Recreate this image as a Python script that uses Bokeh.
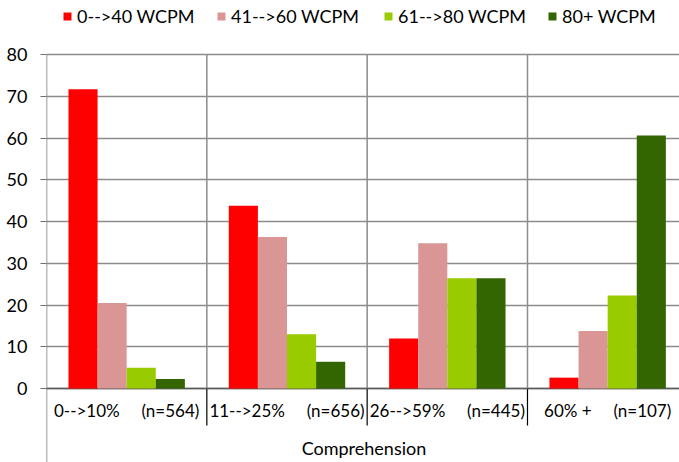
from bokeh.plotting import figure
from bokeh.models import (Range1d, FixedTicker, ColumnDataSource, Legend, LegendItem)
from bokeh.core.properties import value
from bokeh.embed import file_html
from bokeh.resources import INLINE
import numpy as np

# ---- data -------------------------------------------------------------
groups = ["0-->10%", "11-->25%", "26-->59%", "60% +"]
group_n = ["(n=564)", "(n=656)", "(n=445)", "(n=107)"]
series = ["0-->40 WCPM", "41-->60 WCPM", "61-->80 WCPM", "80+ WCPM"]
wcpm_0_40 = [71.7, 43.8, 12.0, 2.6]
wcpm_41_60 = [20.5, 36.3, 34.8, 13.8]
wcpm_61_80 = [5.0, 13.0, 26.4, 22.3]
wcpm_80_up = [2.3, 6.4, 26.4, 60.6]
y_ticks = [0, 10, 20, 30, 40, 50, 60, 70, 80]
x_title = "Comprehension"

values = [wcpm_0_40, wcpm_41_60, wcpm_61_80, wcpm_80_up]
colors = ["#FF0000", "#D99694", "#99CC00", "#336600"]

FONT = "Lato"
FS = "18px"
GRID = "#8c8c8c"

# ---- layout -----------------------------------------------------------
W, H = 679, 462
LEFT = 46
group_px = 160.33          # width of one category group in pixels
unit_px = 334 / 80.0       # pixels per y unit
y0_px = 388                # screen y of value 0 (from top)
y80_px = 54                # screen y of value 80 (from top)

x_end = (W - LEFT) / group_px
y_top = 80 + y80_px / unit_px
y_bot = -(H - y0_px) / unit_px

p = figure(width=W, height=H, output_backend="svg", toolbar_location=None,
           x_range=Range1d(0, x_end), y_range=Range1d(y_bot, y_top),
           min_border_left=LEFT, min_border_right=0, min_border_top=0,
           min_border_bottom=0, x_axis_location=None)
p.outline_line_color = None
p.xgrid.visible = False

# y axis: ticks and labels only, the axis line is drawn separately
p.yaxis.ticker = FixedTicker(ticks=y_ticks)
p.yaxis.axis_line_color = None
p.yaxis.major_tick_out = 6
p.yaxis.major_tick_in = 0
p.yaxis.major_tick_line_color = "#6e6e6e"
p.yaxis.minor_tick_line_color = None
p.yaxis.major_label_standoff = 13
p.yaxis.major_label_text_font = FONT
p.yaxis.major_label_text_font_size = FS
p.yaxis.major_label_text_color = "#000000"
p.ygrid.ticker = FixedTicker(ticks=y_ticks)
p.ygrid.grid_line_color = GRID
p.ygrid.grid_line_width = 1.5

# group separators (gray inside the plot, black through the label band)
seps = np.arange(1, len(groups))
p.segment(x0=seps, x1=seps, y0=[0] * len(seps), y1=[80] * len(seps),
          line_color=GRID, line_width=1.5)
p.segment(x0=seps, x1=seps, y0=[-37 / unit_px] * len(seps), y1=[0] * len(seps),
          line_color="#000000", line_width=1.2)

# value axis line, running down through the category band
p.segment(x0=[0], x1=[0], y0=[y_bot], y1=[80], line_color="#7a7a7a", line_width=1.5)
# category axis line at zero
p.segment(x0=[-6 / group_px], x1=[x_end], y0=[0], y1=[0],
          line_color="#5a5a5a", line_width=1.5)

# ---- bars -------------------------------------------------------------
bar_w = 29.1 / group_px
centers = np.arange(len(groups)) + 0.5
renderers = []
for i, (vals, col) in enumerate(zip(values, colors)):
    off = (i - 1.5) * bar_w
    src = ColumnDataSource(dict(x=centers + off, top=vals))
    r = p.vbar(x="x", top="top", bottom=0, width=bar_w, source=src,
               fill_color=col, line_color=None)
    renderers.append(r)

# ---- category labels --------------------------------------------------
gap = "\u00a0" * 5
cat_labels = [f"{g}{gap}{n}" for g, n in zip(groups, group_n)]
p.text(x=centers, y=[-(410 - y0_px) / unit_px] * len(groups), text=cat_labels,
       text_align="center", text_baseline="alphabetic",
       text_font=value(FONT), text_font_size="17px", text_color="#000000")
p.text(x=[len(groups) / 2.0 - 0.02], y=[-(447 - y0_px) / unit_px], text=[x_title],
       text_align="center", text_baseline="alphabetic",
       text_font=value(FONT), text_font_size=FS, text_color="#000000")

# ---- legend (one entry per swatch position along the top) -------------
legend_x = [62, 216, 383, 547]
for name, r, lx in zip(series, renderers, legend_x):
    lg = Legend(items=[LegendItem(label=name, renderers=[r])],
                location=(lx - LEFT, H - 27), orientation="horizontal",
                padding=0, margin=0, spacing=0, label_standoff=5,
                glyph_width=10, glyph_height=10,
                border_line_color=None, background_fill_alpha=0,
                label_text_font=FONT, label_text_font_size=FS,
                label_text_color="#000000", label_height=20)
    p.add_layout(lg)

open("out.html", "w").write(file_html(p, INLINE))
